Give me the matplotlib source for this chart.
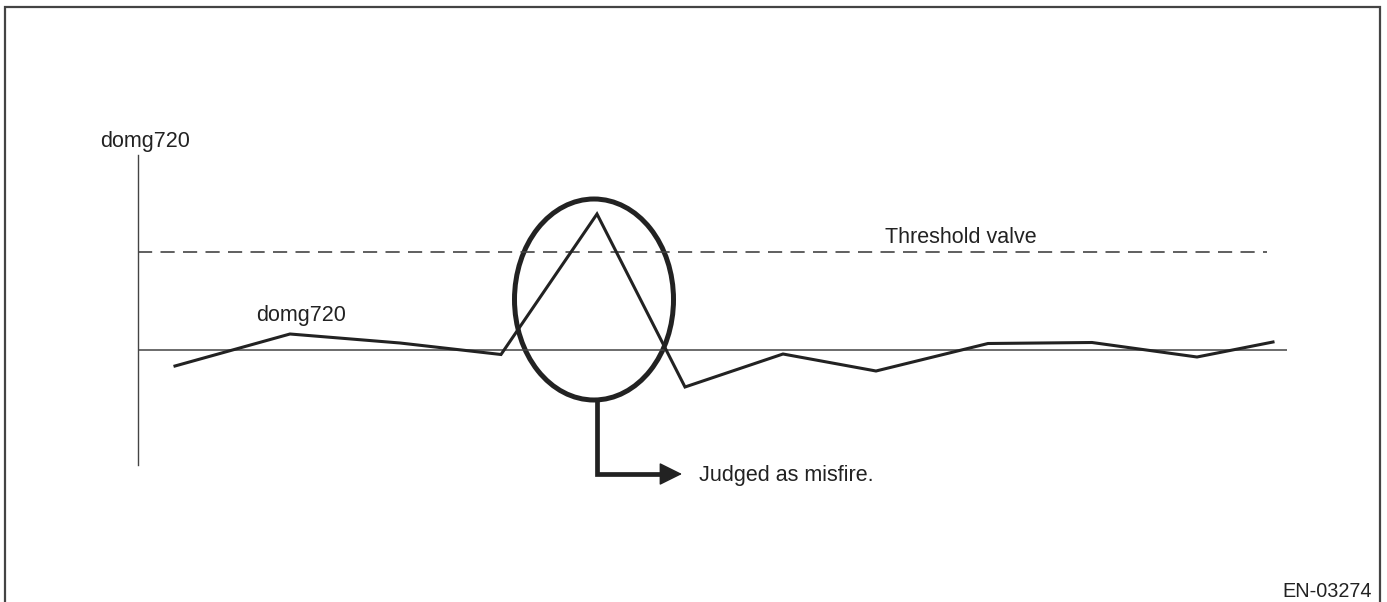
import matplotlib
matplotlib.use("Agg")
import matplotlib.pyplot as plt
from matplotlib.patches import Ellipse, Rectangle

plt.rcParams['font.family'] = ['Liberation Sans', 'DejaVu Sans']

# Sample positions (engine cycles) and domg720 values
sample_x = [0.37, 1.52, 2.62, 3.63, 4.59, 5.47, 6.45, 7.38, 8.50, 9.54, 10.59, 11.35]
domg720 = [-1.6, 1.6, 0.7, -0.45, 13.6, -3.7, -0.4, -2.1, 0.65, 0.75, -0.7, 0.8]

threshold = 9.8
threshold_end = 11.29

# Misfire cycle that goes over the threshold
misfire_x = 4.56
misfire_y = 5.05
misfire_w = 1.59
misfire_h = 20.1

INK = "#222222"
LINE_GREY = "#444444"


def plot_misfire_chart(save_filepath):
    W, H = 1387, 602
    fig = plt.figure(figsize=(W / 100, H / 100), dpi=100)

    # Outer frame (bottom edge falls outside the picture)
    fig.patches.append(Rectangle(
        (5 / W, -0.05), (1380 - 5) / W, (H - 7) / H + 0.05,
        transform=fig.transFigure, fill=False,
        edgecolor=LINE_GREY, linewidth=1.6))

    ax = fig.add_axes([138 / W, (H - 465) / H, (1287 - 138) / W, (465 - 155) / H])
    ax.set_xlim(0, 11.49)
    ax.set_ylim(-11.5, 19.5)
    ax.axis("off")

    # y axis and zero line
    ax.plot([0, 0], [-11.5, 19.5], color=LINE_GREY, linewidth=1.0, clip_on=False)
    ax.axhline(0, color=LINE_GREY, linewidth=1.1)

    # Threshold (dashed)
    ax.plot([0, threshold_end], [threshold, threshold],
            color=LINE_GREY, linewidth=1.2, linestyle=(0, (8.5, 5)))

    # domg720 signal
    ax.plot(sample_x, domg720, color=INK, linewidth=2.2,
            solid_joinstyle="miter", clip_on=False)

    # Circle round the misfire
    ax.add_patch(Ellipse((misfire_x, misfire_y), misfire_w, misfire_h,
                         fill=False, edgecolor=INK, linewidth=3.6))

    # Leader line to the text
    bottom = misfire_y - misfire_h / 2
    corner_y = -12.4
    tip_x = 5.44
    arrow_x = sample_x[4]
    ax.plot([arrow_x, arrow_x, tip_x - 0.15], [bottom, corner_y, corner_y],
            color=INK, linewidth=3.4, solid_joinstyle="miter",
            solid_capstyle="butt", clip_on=False)
    ax.annotate("", xy=(tip_x, corner_y), xytext=(tip_x - 0.25, corner_y),
                arrowprops=dict(arrowstyle="-|>,head_length=1.45,head_width=0.72",
                                color=INK, linewidth=1.0, shrinkA=0, shrinkB=0),
                annotation_clip=False)

    # Labels
    ax.text(0.07, 20.3, "domg720", ha="center", va="baseline",
            fontsize=15.5, color=INK)
    ax.text(1.63, 2.9, "domg720", ha="center", va="baseline",
            fontsize=15.5, color=INK)
    ax.text(8.23, 10.7, "Threshold valve", ha="center", va="baseline",
            fontsize=15.5, color=INK)
    ax.text(5.61, -13.1, "Judged as misfire.", ha="left", va="baseline",
            fontsize=15.5, color=INK)
    fig.text(1372 / W, (H - 597) / H, "EN-03274", ha="right", va="baseline",
             fontsize=14.3, color=INK)

    fig.savefig(save_filepath, dpi=100, facecolor="white")
    plt.close(fig)


if __name__ == "__main__":
    plot_misfire_chart("out.png")
